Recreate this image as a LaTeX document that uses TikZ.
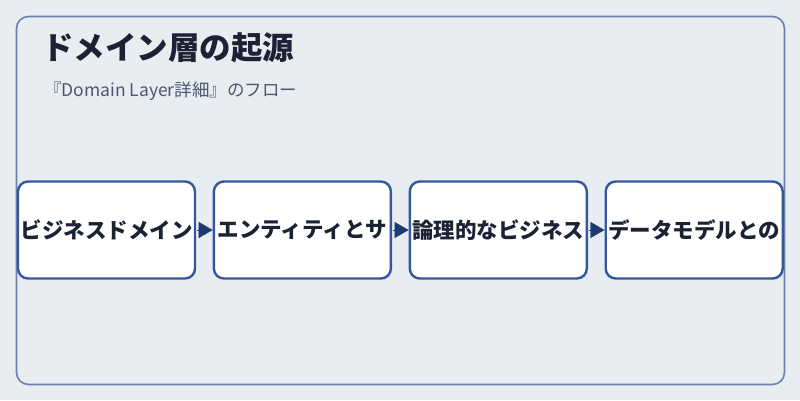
\documentclass[tikz,border=0pt]{standalone}
\usepackage{fontspec}
\setmainfont{Noto Sans CJK JP}
\usetikzlibrary{positioning,arrows.meta}
\tikzset{
  flowbox/.style={draw=boxblue,fill=white,line width=2.4pt,rounded corners=10pt,
    minimum width=177pt,minimum height=97pt,inner sep=0pt,
    font=\fontsize{21.5}{24}\selectfont\bfseries,text=titleink},
  flowarrow/.style={draw=arrownavy,line width=0.4pt,shorten <=1pt,
    -{Triangle[length=14pt,width=16pt,fill=arrownavy]}}
}
\begin{document}
\begin{tikzpicture}[x=1pt,y=-1pt,node distance=16.5pt]
\definecolor{pagebg}{HTML}{E8EDF2}
\definecolor{framegray}{HTML}{6A80AE}
\definecolor{boxblue}{HTML}{3557A0}
\definecolor{arrownavy}{HTML}{1F3A6E}
\definecolor{titleink}{HTML}{1A2234}
\definecolor{subink}{HTML}{4A5870}
\fill [pagebg] (0,0) rectangle (800,400);
\useasboundingbox (0,0) rectangle (800,400);
\draw [line width=1.6pt,color=framegray,rounded corners=12pt] (16.5,16.5) rectangle (784.5,384.5);
\node [anchor=base west,font=\fontsize{31.5}{36}\selectfont\bfseries,text=titleink,inner sep=0pt] (title) at (42,59) {ドメイン層の起源};
\node [anchor=base west,font=\fontsize{17.5}{20}\selectfont,text=subink,inner sep=0pt] (subtitle) at (44,96) {『Domain Layer詳細』のフロー};
\node [flowbox] (bizdomain) at (106.5,230) {ビジネスドメイン};
\node [flowbox,right=of bizdomain] (entity) {エンティティとサ};
\node [flowbox,right=of entity] (logic) {論理的なビジネス};
\node [flowbox,right=of logic] (datamodel) {データモデルとの};
\draw [flowarrow] (bizdomain) -- (entity);
\draw [flowarrow] (entity) -- (logic);
\draw [flowarrow] (logic) -- (datamodel);
\end{tikzpicture}
\end{document}
